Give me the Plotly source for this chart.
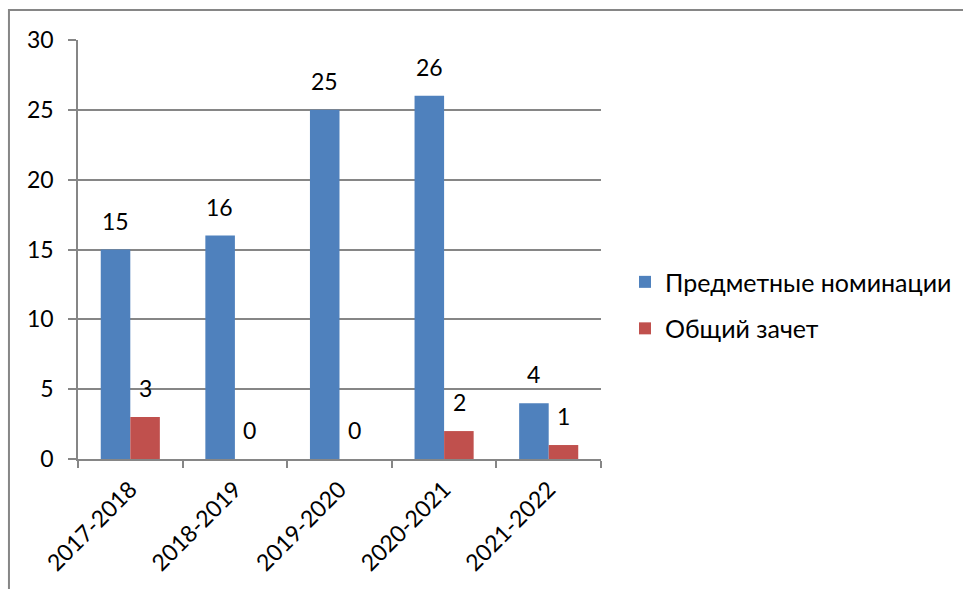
import plotly.graph_objects as go

categories = ["2017-2018", "2018-2019", "2019-2020", "2020-2021", "2021-2022"]
subject_noms = [15, 16, 25, 26, 4]
overall = [3, 0, 0, 2, 1]
series_names = ["Предметные номинации", "Общий зачет"]
y_ticks = [0, 5, 10, 15, 20, 25, 30]

FONT = "Lato"
GRAY = "#868686"
BLUE = "#4F81BD"
RED = "#C0504D"

fig = go.Figure()
fig.add_trace(go.Bar(x=categories, y=subject_noms, name=series_names[0],
                     marker=dict(color=BLUE, line=dict(width=0)),
                     legendgroup="a"))
fig.add_trace(go.Bar(x=categories, y=overall, name=series_names[1],
                     marker=dict(color=RED, line=dict(width=0)),
                     legendgroup="b"))

for vals, shift in ((subject_noms, -15), (overall, 15)):
    for c, v in zip(categories, vals):
        fig.add_annotation(x=c, y=v, text=str(v), showarrow=False,
                           xshift=shift, yshift=13, yanchor="bottom",
                           font=dict(family=FONT, size=23, color="black"))

fig.add_shape(type="rect", xref="paper", yref="paper",
              x0=-0.132, x1=1.75, y0=-0.4, y1=1.0716,
              line=dict(color=GRAY, width=2), fillcolor="rgba(0,0,0,0)", layer="below")

fig.update_layout(
    width=963, height=589,
    margin=dict(l=78, r=362, t=40, b=130),
    paper_bgcolor="white", plot_bgcolor="white",
    barmode="group", bargap=0.435, bargroupgap=0,
    font=dict(family=FONT, size=23, color="black"),
    showlegend=True,
    legend=dict(xref="container", yref="container", x=0.649, y=0.482,
                xanchor="left", yanchor="middle",
                font=dict(family=FONT, size=25), tracegroupgap=11,
                traceorder="grouped"),
    xaxis=dict(showline=True, linecolor=GRAY, linewidth=1.5,
               ticks="outside", tickson="boundaries", ticklen=7,
               tickcolor=GRAY, tickwidth=1.5, tickangle=-45,
               tickfont=dict(family=FONT, size=23), showgrid=False,
               ticklabelstandoff=6),
    yaxis=dict(range=[0, 30], tickvals=y_ticks, showline=True, linecolor=GRAY,
               linewidth=1.5, ticks="outside", ticklen=8, tickcolor=GRAY,
               tickwidth=1.5, showgrid=True, gridcolor=GRAY, gridwidth=1.5,
               zeroline=False, tickfont=dict(family=FONT, size=23),
               ticklabelstandoff=10),
)

fig.write_html("out.html", config={"displayModeBar": False},
               post_script="document.body.style.margin='0';")
